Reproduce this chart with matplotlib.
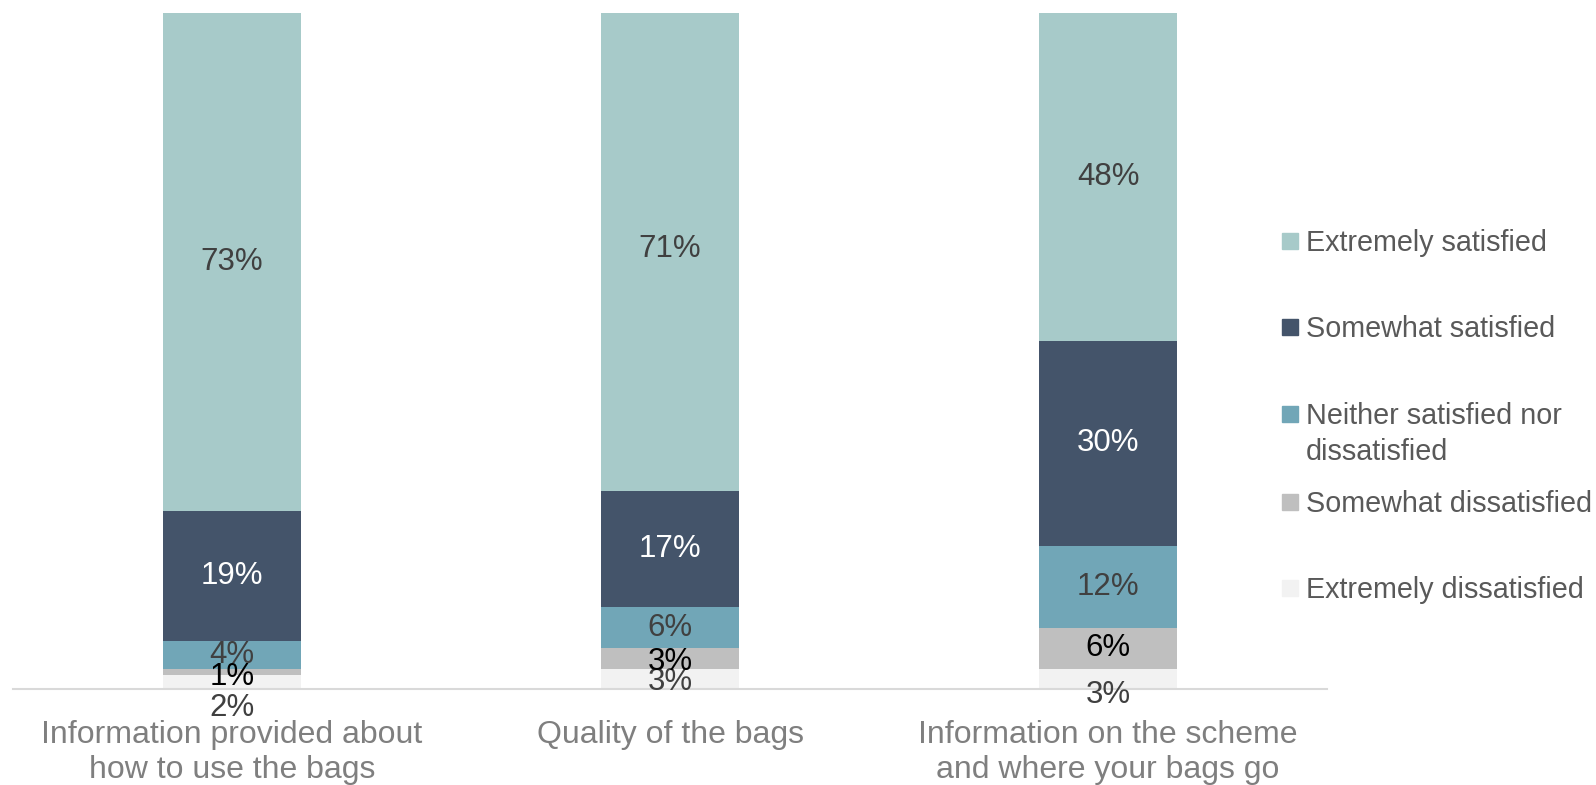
import matplotlib.pyplot as plt
from matplotlib.patches import Rectangle
import numpy as np

plt.rcParams['font.family'] = ['Liberation Sans', 'DejaVu Sans']

# data (percent), stacked from the bottom up
categories = ["Information provided about\nhow to use the bags",
              "Quality of the bags",
              "Information on the scheme\nand where your bags go"]
series_names = ["Extremely dissatisfied", "Somewhat dissatisfied",
                "Neither satisfied nor\ndissatisfied",
                "Somewhat satisfied", "Extremely satisfied"]
extremely_dissatisfied = [2, 3, 3]
somewhat_dissatisfied = [1, 3, 6]
neither = [4, 6, 12]
somewhat_satisfied = [19, 17, 30]
extremely_satisfied = [73, 71, 48]

values = [extremely_dissatisfied, somewhat_dissatisfied, neither,
          somewhat_satisfied, extremely_satisfied]
colors = ["#F2F2F2", "#BFBFBF", "#71A6B7", "#44546A", "#A7CAC9"]
label_colors = ["#404040", "#000000", "#404040", "#FFFFFF", "#404040"]

# Excel nudged some of the tiny labels down (pixels)
label_shift = {(0, 0): 26, (0, 1): 5, (2, 0): 16, (1, 0): 3, (1, 1): 4}

W, H = 1596, 785
fig = plt.figure(figsize=(W / 100, H / 100), dpi=100)
ax = fig.add_axes([13 / W, 1 - 689 / H, (1327 - 13) / W, (689 - 13) / H])

x = np.arange(len(categories))
bottom = np.zeros(len(categories))
for s, (vals, col) in enumerate(zip(values, colors)):
    vals = np.array(vals, dtype=float)
    ax.bar(x, vals, 0.313, bottom=bottom, color=col, edgecolor='none')
    for i, v in enumerate(vals):
        dy = label_shift.get((i, s), 0) * 0.72
        ax.annotate(f"{int(v)}%", xy=(x[i], bottom[i] + v / 2),
                    xytext=(0, -dy), textcoords='offset points',
                    ha='center', va='center', fontsize=22.5,
                    color=label_colors[s], annotation_clip=False)
    bottom += vals

ax.set_xlim(-0.5, 2.5)
ax.set_ylim(0, 99)
ax.set_yticks([])
ax.set_xticks(x)
ax.set_xticklabels(categories, fontsize=23, color='#7F7F7F', linespacing=1.22)
ax.tick_params(axis='x', length=0, pad=22.5)
for sp in ['top', 'left', 'right']:
    ax.spines[sp].set_visible(False)
ax.spines['bottom'].set_color('#D9D9D9')
ax.spines['bottom'].set_linewidth(1.5)

# legend, top to bottom
legend_baselines = [251, 337, 424, 512, 598]
for name, col, yb in zip(series_names[::-1], colors[::-1], legend_baselines):
    fig.patches.append(Rectangle((1282 / W, 1 - (yb - 2) / H), 16 / W, 16 / H,
                                 transform=fig.transFigure, color=col))
    for k, line in enumerate(name.split("\n")):
        fig.text(1306 / W, 1 - (yb + 36 * k) / H, line, fontsize=20.7,
                 color='#595959', va='baseline', ha='left')

fig.savefig("out.png", dpi=100)
